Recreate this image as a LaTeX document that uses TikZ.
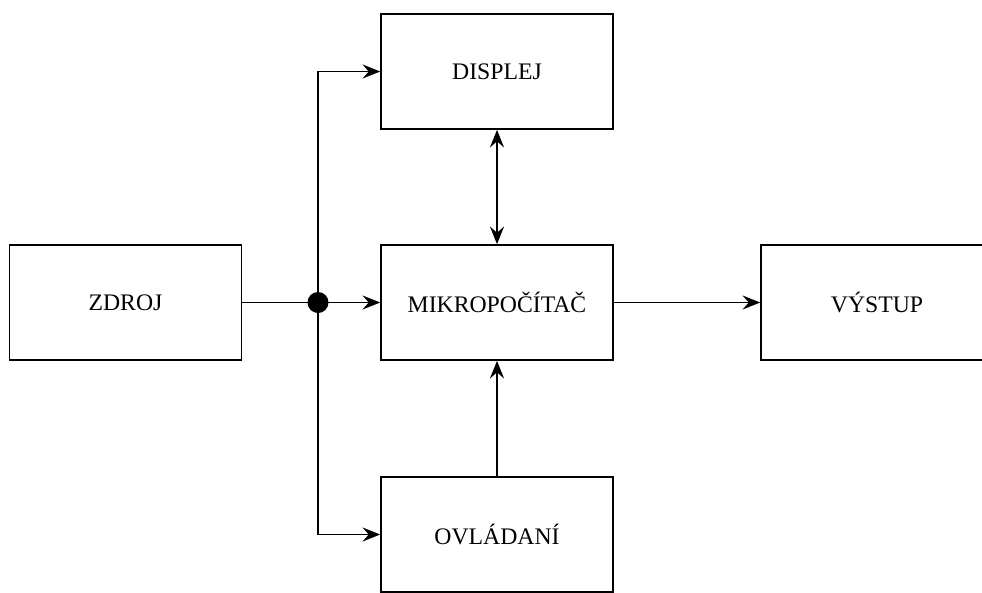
\documentclass[tikz,border=0pt]{standalone}
\usepackage{fontspec}
\setmainfont{Liberation Serif}
\usetikzlibrary{arrows.meta}

\tikzset{
    block/.style={draw, line width=1pt, minimum width=4.64cm, minimum height=2.3cm, inner sep=0pt, font=\fontsize{13.5}{16}\selectfont},
    line/.style={line width=1pt},
    conn/.style={line, -{Stealth[length=10pt, width=8pt, inset=3.5pt]}},
    biconn/.style={line, {Stealth[length=10pt, width=8pt, inset=3.5pt]}-{Stealth[length=10pt, width=8pt, inset=3.5pt]}},
    junction/.style={circle, fill=black, inner sep=0pt, minimum size=0.42cm}
}

\begin{document}
\begin{tikzpicture}[x=0.02cm, y=-0.02cm]
        % Frame
        \clip (0,0) rectangle (982,592);

        % Blocks
        \node[block] (zdroj) at (125.5,302.5) {ZDROJ};
        \node[block] (mikro) at (497,302.5) {MIKROPOČÍTAČ};
        \node[block] (displej) at (497,71.5) {DISPLEJ};
        \node[block] (ovladani) at (497,534.5) {OVLÁDANÍ};
        \node[block] (vystup) at (877,302.5) {VÝSTUP};

        % Junction
        \node[junction] (jn) at (318,302.5) {};

        % Connections
        \draw[line] (zdroj.east) -- (jn.center);
        \draw[conn] (jn.center) -- (mikro.west);
        \draw[conn] (jn.center) |- (displej.west);
        \draw[conn] (jn.center) |- (ovladani.west);
        \draw[biconn] (displej.south) -- (mikro.north);
        \draw[conn] (ovladani.north) -- (mikro.south);
        \draw[conn] (mikro.east) -- (vystup.west);
    \end{tikzpicture}
\end{document}
